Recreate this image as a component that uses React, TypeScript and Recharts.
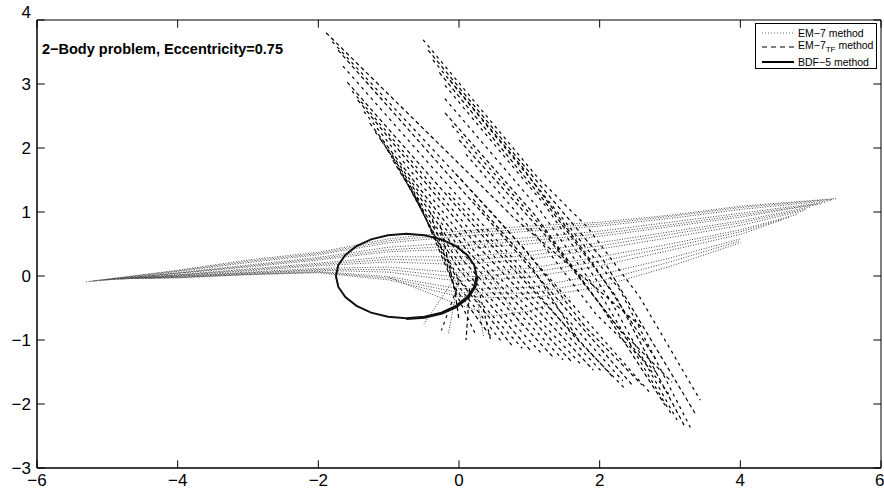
import React from 'react';
import { LineChart, Line, XAxis, YAxis, ReferenceLine, ReferenceArea } from 'recharts';

const xTicks = [-6, -4, -2, 0, 2, 4, 6];
const yTicks = [-3, -2, -1, 0, 1, 2, 3, 4];

const titleText = '2\u2212Body problem, Eccentricity=0.75';
const legendLabels = ['EM\u22127 method', 'EM\u22127', 'BDF\u22125 method'];

// BDF-5 orbit (solid ellipse)
const bdfOrbit: number[][] = [
  [0.25, 0], [0.216, 0.171], [0.116, 0.33], [-0.043, 0.467], [-0.25, 0.572], [-0.491, 0.638],
  [-0.75, 0.66], [-1.009, 0.638], [-1.25, 0.572], [-1.457, 0.467], [-1.616, 0.33], [-1.716, 0.171],
  [-1.75, 0], [-1.716, -0.171], [-1.616, -0.33], [-1.457, -0.467], [-1.25, -0.572], [-1.009, -0.638],
  [-0.75, -0.66], [-0.491, -0.638], [-0.25, -0.572], [-0.043, -0.467], [0.116, -0.33], [0.216, -0.171],
  [0.25, 0],
];
const bdfOrbitLate: number[][] = [
  [-0.75, -0.672], [-0.49, -0.652], [-0.24, -0.588], [-0.03, -0.482], [0.13, -0.342], [0.232, -0.175], [0.265, 0],
];

// EM-7 method (dotted fan)
const em7Paths: number[][][] = [
  [[-5.3, -0.09], [-4, 0.09], [-3, 0.25], [-2, 0.37], [-1, 0.58], [0, 0.7], [1, 0.78], [2, 0.84], [3, 0.95], [4, 1.09], [5.37, 1.21]],
  [[-5.25, -0.085], [-4, 0.08], [-3, 0.23], [-2, 0.35], [-1, 0.55], [0, 0.66], [1, 0.74], [2, 0.81], [3, 0.93], [4, 1.07], [5.33, 1.2]],
  [[-5.2, -0.08], [-4, 0.07], [-3, 0.21], [-2, 0.33], [-1, 0.52], [0, 0.62], [1, 0.7], [2, 0.78], [3, 0.9], [4, 1.04], [5.3, 1.18]],
  [[-5.1, -0.07], [-4, 0.05], [-3, 0.17], [-2, 0.29], [-1, 0.45], [0, 0.52], [1, 0.6], [2, 0.7], [3, 0.84], [4, 0.98], [5.2, 1.15]],
  [[-5.05, -0.065], [-4, 0.045], [-3, 0.155], [-2, 0.27], [-1, 0.41], [0, 0.47], [1, 0.55], [2, 0.66], [3, 0.8], [4, 0.95], [5.15, 1.13]],
  [[-5.0, -0.06], [-4, 0.04], [-3, 0.14], [-2, 0.25], [-1, 0.38], [0, 0.42], [1, 0.5], [2, 0.62], [3, 0.77], [4, 0.92], [5.1, 1.12]],
  [[-4.9, -0.05], [-4, 0.02], [-3, 0.11], [-2, 0.2], [-1, 0.3], [0, 0.3], [1, 0.38], [2, 0.52], [3, 0.69], [4, 0.86], [5.0, 1.08]],
  [[-4.85, -0.05], [-4, 0.015], [-3, 0.095], [-2, 0.18], [-1, 0.26], [0, 0.24], [1, 0.32], [2, 0.47], [3, 0.65], [4, 0.83], [4.95, 1.05]],
  [[-4.8, -0.05], [-4, 0.01], [-3, 0.08], [-2, 0.16], [-1, 0.22], [0, 0.18], [1, 0.26], [2, 0.42], [3, 0.6], [4, 0.79], [4.9, 1.02]],
  [[-4.7, -0.04], [-4, 0.0], [-3, 0.06], [-2, 0.12], [-1, 0.14], [0, 0.05], [1, 0.12], [2, 0.3], [3, 0.5], [4, 0.72], [4.8, 0.96]],
  [[-4.65, -0.04], [-4, -0.005], [-3, 0.05], [-2, 0.1], [-1, 0.1], [0, -0.02], [1, 0.05], [2, 0.23], [3, 0.45], [4, 0.69], [4.7, 0.92]],
  [[-4.6, -0.04], [-4, -0.01], [-3, 0.04], [-2, 0.09], [-1, 0.06], [0, -0.08], [1, -0.02], [2, 0.16], [3, 0.4], [4, 0.65], [4.6, 0.88]],
  [[-4.5, -0.04], [-4, -0.02], [-3, 0.03], [-2, 0.07], [-1, -0.01], [0, -0.2], [1, -0.18], [2, 0.02], [3, 0.28], [4, 0.58]],
  [[-4.45, -0.035], [-4, -0.025], [-3, 0.025], [-2, 0.06], [-1, -0.035], [0, -0.26], [1, -0.27], [2, -0.08], [3, 0.22], [4, 0.55]],
  [[-4.4, -0.03], [-4, -0.03], [-3, 0.02], [-2, 0.05], [-1, -0.06], [0, -0.32], [1, -0.35], [2, -0.17], [3, 0.15], [4, 0.52]],
  [[-1, -0.02], [0, -0.45], [0.5, -0.62], [1, -0.55], [1.6, -0.32]],
  [[0.0, 0.0], [-0.15, -0.9]],
  [[0.2, 0.0], [0.35, -0.95]],
  [[0.4, 0.1], [0.9, -0.8]],
  [[-0.1, -0.1], [-0.5, -0.75]],
];

// EM-7_TF method (dashed strokes)
const em7tfPaths: number[][][] = [
  [[-1.89, 3.8], [0.77, 0.92], [2.6, -0.8]],
  [[-1.8, 3.66], [0.5, 0.95], [2.72, -1.83]],
  [[-1.72, 3.53], [0.4, 0.9], [2.46, -1.7]],
  [[-1.65, 3.28], [0.3, 0.85], [2.33, -1.64]],
  [[-1.59, 3.03], [0.3, 0.67], [2.19, -1.58]],
  [[-1.52, 2.89], [0.2, 0.66], [2.05, -1.52]],
  [[-1.44, 2.75], [0.2, 0.55], [1.91, -1.47]],
  [[-1.35, 2.57], [0.15, 0.47], [1.76, -1.41]],
  [[-1.27, 2.39], [0.1, 0.42], [1.62, -1.36]],
  [[-1.19, 2.25], [0.1, 0.3], [1.48, -1.31]],
  [[-1.11, 2.125], [0.05, 0.25], [1.34, -1.27]],
  [[-1.02, 1.97], [0.05, 0.12], [1.19, -1.23]],
  [[-0.94, 1.81], [0.0, 0.1], [1.04, -1.19]],
  [[-0.85, 1.67], [0.0, -0.05], [0.9, -1.13]],
  [[-0.77, 1.53], [-0.05, 0.0], [0.75, -1.08]],
  [[-0.68, 1.38], [-0.05, -0.1], [0.6, -1.02]],
  [[-0.6, 1.23], [-0.05, -0.2], [0.47, -0.97]],
  [[-0.41, 1.0], [-0.05, -0.25], [0.23, -0.9]],
  [[-0.27, 0.8], [-0.06, -0.22], [0.0, -0.69]],
  [[-0.51, 3.69], [1.11, 1.55], [1.82, 0.77], [2.57, -0.33], [3.43, -1.94]],
  [[-0.44, 3.53], [1.13, 1.45], [2.05, 0.25], [3.37, -2.17]],
  [[-0.37, 3.375], [1.15, 1.34], [2.29, -0.22], [3.31, -2.41]],
  [[-0.28, 3.18], [1.18, 1.22], [2.22, -0.3], [3.2, -2.33]],
  [[-0.2, 2.98], [1.22, 1.11], [2.15, -0.375], [3.1, -2.25]],
  [[-0.13, 3.06], [0.9, 1.7], [1.9, 0.2], [2.8, -1.3]],
  [[-0.2, 2.77], [1.15, 1.03], [2.08, -0.41], [3.01, -2.14]],
  [[-0.2, 2.55], [1.08, 0.95], [2.01, -0.45], [2.93, -2.02]],
  [[-0.1, 2.35], [1.18, 0.76], [2.15, -0.65], [2.98, -1.84]],
  [[0.0, 2.125], [1.29, 0.56], [2.29, -0.84], [3.03, -1.66]],
  [[0.1, 1.9], [1.05, 0.7], [1.95, -0.6], [2.8, -1.5]],
  [[-0.05, 1.6], [0.95, 0.4], [1.8, -0.8], [2.6, -1.7]],
  [[-0.15, 1.3], [0.8, 0.15], [1.6, -0.9], [2.35, -1.75]],
  [[0.2, 1.2], [1.0, 0.2], [1.7, -1.0]],
  [[0.0, -0.1], [-0.25, -0.85]],
  [[0.15, -0.2], [0.1, -1.0]],
  [[0.3, -0.3], [0.45, -1.0]],
];

const toPts = (p: number[][]) => p.map(([x, y]) => ({ x, y }));
const fmt = (v: number) => String(v).replace('-', '\u2212');
const FONT = '"Liberation Sans", Arial, Helvetica, sans-serif';

const YTick = (props: any) => {
  const { x, y, payload } = props;
  const dy = payload.value === 4 ? -8 : 0;
  return (
    <text x={x} y={y + dy} dy="0.35em" textAnchor="end" fontSize={17} fontFamily={FONT} fill="#000">
      {fmt(payload.value)}
    </text>
  );
};

export default function App() {
  return (
    <div style={{ position: 'absolute', left: 0, top: 0, width: 884, height: 493, background: '#fff' }}>
      <LineChart width={884} height={493} margin={{ top: 20, right: 3, bottom: 0, left: 0 }}>
        <XAxis
          dataKey="x"
          type="number"
          domain={[-6, 6]}
          ticks={xTicks}
          allowDataOverflow
          height={25}
          tickLine={false}
          axisLine={{ stroke: '#000' }}
          tickFormatter={fmt}
          tick={{ fontSize: 17, fontFamily: FONT, fill: '#000' }}
          tickMargin={0}
        />
        <YAxis
          dataKey="y"
          type="number"
          domain={[-3, 4]}
          ticks={yTicks}
          allowDataOverflow
          width={37}
          tickLine={false}
          axisLine={{ stroke: '#000' }}
          tick={<YTick />}
          tickMargin={0}
        />
        <ReferenceArea x1={-6} x2={6} y1={-3} y2={4} fill="none" stroke="#000" strokeWidth={1} />
        {em7Paths.map((p, i) => (
          <Line
            key={'em7' + i}
            data={toPts(p)}
            dataKey="y"
            type="linear"
            dot={false}
            stroke="#444"
            strokeWidth={1}
            strokeDasharray="1 1.6"
            isAnimationActive={false}
          />
        ))}
        {em7tfPaths.map((p, i) => (
          <Line
            key={'tf' + i}
            data={toPts(p)}
            dataKey="y"
            type="linear"
            dot={false}
            stroke="#000"
            strokeWidth={1.2}
            strokeDasharray={i % 2 === 0 ? '4 3' : '3 4'}
            isAnimationActive={false}
          />
        ))}
        <Line
          data={toPts(bdfOrbit)}
          dataKey="y"
          type="linear"
          dot={false}
          stroke="#111"
          strokeWidth={2}
          isAnimationActive={false}
        />
        <Line
          data={toPts(bdfOrbitLate)}
          dataKey="y"
          type="linear"
          dot={false}
          stroke="#111"
          strokeWidth={2}
          isAnimationActive={false}
        />
        {xTicks.map((t) => (
          <ReferenceLine key={'bx' + t} segment={[{ x: t, y: -3 }, { x: t, y: -2.88 }]} stroke="#000" />
        ))}
        {xTicks.map((t) => (
          <ReferenceLine key={'tx' + t} segment={[{ x: t, y: 4 }, { x: t, y: 3.88 }]} stroke="#000" />
        ))}
        {yTicks.map((t) => (
          <ReferenceLine key={'ly' + t} segment={[{ x: -6, y: t }, { x: -5.89, y: t }]} stroke="#000" />
        ))}
        {yTicks.map((t) => (
          <ReferenceLine key={'ry' + t} segment={[{ x: 6, y: t }, { x: 5.89, y: t }]} stroke="#000" />
        ))}
      </LineChart>
      <div
        style={{
          position: 'absolute', left: 42, top: 41, fontFamily: FONT, fontWeight: 'bold',
          fontSize: 14.5, color: '#000', whiteSpace: 'nowrap', lineHeight: '16px',
        }}
      >
        {titleText}
      </div>
      <div
        style={{
          position: 'absolute', left: 755, top: 23, width: 122, height: 46, border: '1px solid #000',
          background: '#fff', fontFamily: FONT, fontSize: 10.5, color: '#000', boxSizing: 'border-box',
        }}
      >
        <div style={{ position: 'absolute', left: 6, top: 3, display: 'flex', alignItems: 'center', whiteSpace: 'nowrap' }}>
          <svg width={32} height={6}><line x1={0} y1={3} x2={32} y2={3} stroke="#666" strokeDasharray="1 2" /></svg>
          <span style={{ marginLeft: 4 }}>{legendLabels[0]}</span>
        </div>
        <div style={{ position: 'absolute', left: 6, top: 15, display: 'flex', alignItems: 'center', whiteSpace: 'nowrap' }}>
          <svg width={32} height={6}><line x1={0} y1={3} x2={32} y2={3} stroke="#000" strokeDasharray="5 4" /></svg>
          <span style={{ marginLeft: 4 }}>
            {legendLabels[1]}
            <sub style={{ fontSize: 8 }}>TF</sub> method
          </span>
        </div>
        <div style={{ position: 'absolute', left: 6, top: 32, display: 'flex', alignItems: 'center', whiteSpace: 'nowrap' }}>
          <svg width={32} height={6}><line x1={0} y1={3} x2={32} y2={3} stroke="#000" strokeWidth={2} /></svg>
          <span style={{ marginLeft: 4 }}>{legendLabels[2]}</span>
        </div>
      </div>
    </div>
  );
}
